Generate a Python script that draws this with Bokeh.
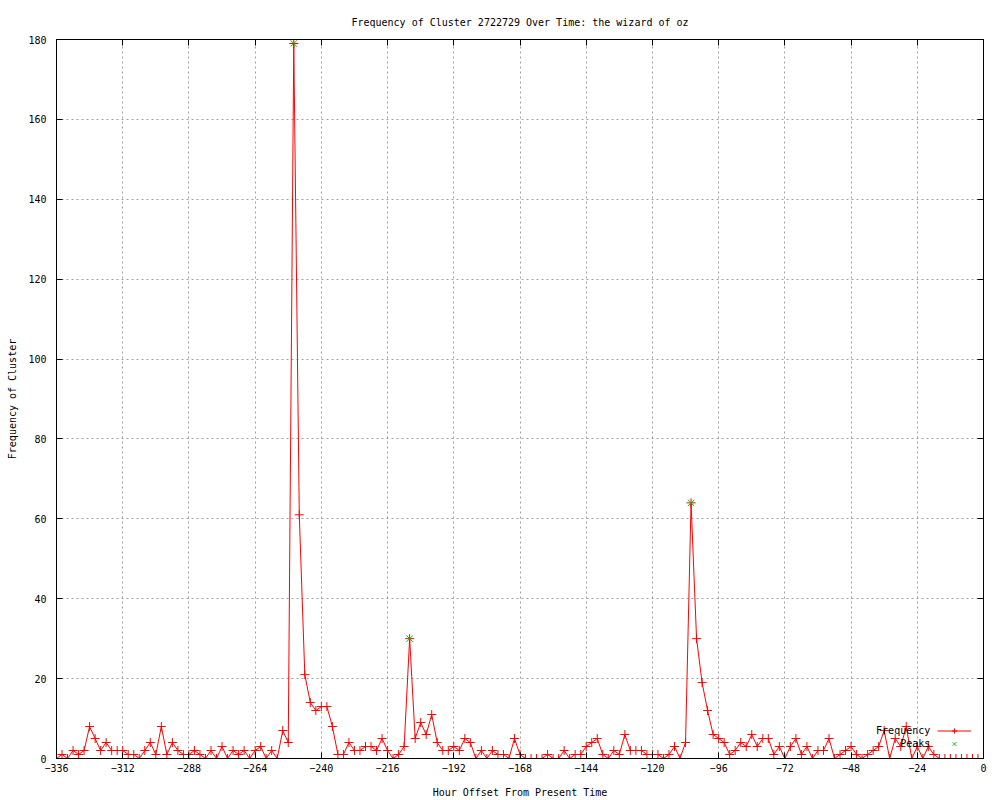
from bokeh.plotting import figure
from bokeh.models import (FixedTicker, LinearAxis, Range1d, Legend, LegendItem,
                          Label, CustomJSTickFormatter)
from bokeh.embed import file_html
from bokeh.resources import INLINE

# ---------------- data ----------------
hours = list(range(-336, 1, 2))
frequency = [
    0, 1, 0, 2, 1, 2, 8, 5, 2, 4, 2, 2,          # -336 .. -314
    2, 1, 1, 0, 2, 4, 1, 8, 1, 4, 2, 1,          # -312 .. -290
    1, 2, 1, 0, 2, 0, 3, 0, 2, 1, 2, 0,          # -288 .. -266
    2, 3, 0, 2, 0, 7, 4, 179, 61, 21, 14, 12,    # -264 .. -242
    13, 13, 8, 1, 1, 4, 2, 2, 3, 3, 2, 5,        # -240 .. -218
    2, 0, 1, 3, 30, 5, 9, 6, 11, 4, 2, 2,        # -216 .. -194
    3, 2, 5, 4, 0, 2, 0, 2, 1, 1, 0, 5,          # -192 .. -170
    1, 0, 0, 0, 0, 1, 0, 0, 2, 0, 1, 1,          # -168 .. -146
    3, 4, 5, 1, 0, 2, 1, 6, 2, 2, 2, 1,          # -144 .. -122
    1, 1, 0, 1, 3, 0, 4, 64, 30, 19, 12, 6,      # -120 .. -98
    5, 4, 1, 2, 4, 3, 6, 3, 5, 5, 1, 3,          # -96 .. -74
    0, 3, 5, 1, 3, 0, 2, 2, 5, 0, 1, 2,          # -72 .. -50
    3, 1, 0, 1, 2, 3, 7, 0, 5, 3, 8, 0,          # -48 .. -26
    3, 0, 3, 1, 0, 0, 0, 0, 0, 0, 0, 0, 0,       # -24 .. 0
]
peak_hours = [-250, -208, -106]
peak_values = [179, 30, 64]
x_ticks = list(range(-336, 1, 24))
y_ticks = list(range(0, 181, 20))

title_text = "Frequency of Cluster 2722729 Over Time: the wizard of oz"
x_label = "Hour Offset From Present Time"
y_label = "Frequency of Cluster"
legend_labels = ["Frequency", "Peaks"]

FONT = "DejaVu Sans Mono"
FS = "10px"
RED = "#ff0000"
GREEN = "#00c000"
GRID = "#a0a0a0"

p = figure(width=1000, height=800,
           x_range=Range1d(-336, 0), y_range=Range1d(0, 180),
           output_backend="svg", toolbar_location=None,
           min_border_left=56, min_border_right=17,
           min_border_top=39, min_border_bottom=40)

p.background_fill_color = "white"
p.border_fill_color = "white"
p.outline_line_color = "black"
p.outline_line_width = 1
p.outline_line_alpha = 1

# title
p.title.text = title_text
p.title.align = "center"
p.title.vertical_align = "top"
p.title.text_font = FONT
p.title.text_font_size = FS
p.title.text_font_style = "normal"
p.title.text_color = "black"
p.title.standoff = 20

# axes
def style_axis(ax, ticks):
    ax.ticker = FixedTicker(ticks=ticks)
    ax.major_tick_in = 6
    ax.major_tick_out = 0
    ax.minor_tick_in = 0
    ax.minor_tick_out = 0
    ax.major_tick_line_color = "black"
    ax.axis_line_color = "black"
    ax.major_label_text_font = FONT
    ax.major_label_text_font_size = FS
    ax.major_label_text_color = "black"
    ax.axis_label_text_font = FONT
    ax.axis_label_text_font_size = FS
    ax.axis_label_text_font_style = "normal"
    ax.axis_label_text_color = "black"

style_axis(p.xaxis[0], x_ticks)
p.xaxis[0].axis_label = x_label
p.xaxis[0].major_label_standoff = 5
p.xaxis[0].axis_label_standoff = 12

style_axis(p.yaxis[0], y_ticks)
p.yaxis[0].axis_label = y_label
p.yaxis[0].major_label_standoff = 10
p.yaxis[0].axis_label_standoff = 7

blank = CustomJSTickFormatter(code="return ''")
top_ax = LinearAxis(formatter=blank, major_label_standoff=0)
style_axis(top_ax, x_ticks)
right_ax = LinearAxis(formatter=blank, major_label_standoff=0)
style_axis(right_ax, y_ticks)
p.add_layout(top_ax, "above")
p.add_layout(right_ax, "right")

# grid
p.xgrid.ticker = FixedTicker(ticks=x_ticks)
p.ygrid.ticker = FixedTicker(ticks=y_ticks)
for g in (p.xgrid, p.ygrid):
    g.grid_line_color = GRID
    g.grid_line_dash = "2 3"
    g.grid_line_width = 1

# data
line_r = p.line(hours, frequency, line_color=RED, line_width=1)
pts_r = p.scatter(hours, frequency, marker="cross", size=9,
                  line_color=RED, line_width=1)
peak_r = p.scatter(peak_hours, peak_values, marker="x", size=9,
                   line_color=GREEN, line_width=1)

legend = Legend(items=[LegendItem(label=" ", renderers=[line_r, pts_r]),
                       LegendItem(label=" ", renderers=[peak_r])],
                location=(881, 8), glyph_width=34, glyph_height=13,
                label_width=0, label_standoff=0, padding=0, spacing=0,
                margin=0, border_line_color=None, background_fill_alpha=0,
                label_text_font=FONT, label_text_font_size=FS,
                label_height=13)
p.add_layout(legend)

p.add_layout(Label(x=-19.3, y=7.0, text=legend_labels[0], text_align="right",
                   text_baseline="middle", text_font=FONT,
                   text_font_size=FS, text_color="black"))
p.add_layout(Label(x=-19.3, y=3.75, text=legend_labels[1], text_align="right",
                   text_baseline="middle", text_font=FONT,
                   text_font_size=FS, text_color="black"))

open("out.html", "w").write(file_html(p, INLINE))
